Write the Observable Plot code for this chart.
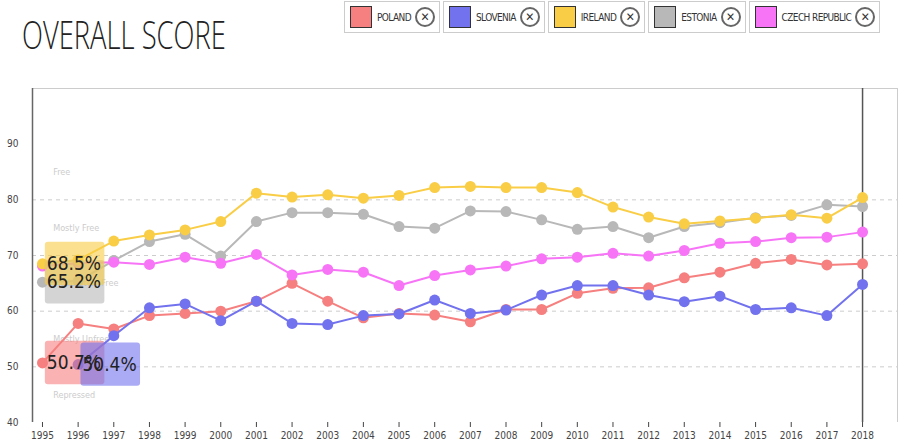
<!DOCTYPE html>
<html><head><meta charset="utf-8">
<script src="https://cdn.jsdelivr.net/npm/d3@7"></script>
<script src="https://cdn.jsdelivr.net/npm/@observablehq/plot@0.6"></script>
<style>
body{margin:0;background:#fff;font-family:"DejaVu Sans Condensed",sans-serif;}
#head{height:88px;position:relative;}
#title{position:absolute;left:22px;top:8px;font-size:38px;font-weight:300;color:#222;font-family:"Open Sans",sans-serif;transform:scaleX(0.72);transform-origin:left;white-space:nowrap;}
#legend{position:absolute;left:344px;top:1px;display:flex;gap:3px;}
.li{border:1px solid #ccc;height:30px;display:flex;align-items:center;padding:0 4px 0 5px;font-size:10px;color:#333;white-space:nowrap;letter-spacing:-0.6px;}
.sw{width:20px;height:20px;border:1px solid #333;margin-right:5px;}
.x{width:20px;height:20px;border:2px solid #666;border-radius:50%;margin-left:4px;display:flex;align-items:center;justify-content:center;font-weight:bold;font-size:12px;color:#333;box-sizing:border-box;letter-spacing:0;}
</style></head><body>
<div id="head"><div id="title">OVERALL SCORE</div><div id="legend"></div></div>
<div id="chart"></div>
<script>
const years = d3.range(1995, 2019);
const countries = ["POLAND","SLOVENIA","IRELAND","ESTONIA","CZECH REPUBLIC"];
const colors = ["#f67f7f","#7272ee","#f9cd45","#b8b8b8","#f774f7"];
const poland = [50.7,57.8,56.8,59.2,59.6,60.0,61.8,65.0,61.8,58.8,59.6,59.3,58.1,60.3,60.3,63.2,64.1,64.2,66.0,67.0,68.6,69.3,68.3,68.5];
const slovenia = [null,50.4,55.6,60.6,61.3,58.3,61.8,57.8,57.6,59.2,59.5,62.0,59.6,60.2,62.9,64.6,64.6,62.9,61.7,62.7,60.3,60.6,59.2,64.8];
const ireland = [68.5,69.2,72.6,73.7,74.6,76.1,81.2,80.5,80.9,80.3,80.8,82.2,82.4,82.2,82.2,81.3,78.7,76.9,75.7,76.2,76.7,77.3,76.7,80.4];
const estonia = [65.2,65.4,69.1,72.5,73.8,69.9,76.1,77.7,77.7,77.4,75.2,74.9,78.0,77.9,76.4,74.7,75.2,73.2,75.2,75.9,76.8,77.2,79.1,78.8];
const czech = [68.1,68.6,68.8,68.4,69.7,68.6,70.2,66.5,67.5,67.0,64.6,66.4,67.4,68.1,69.4,69.7,70.4,69.9,70.9,72.2,72.5,73.2,73.3,74.2];
const series = [poland,slovenia,ireland,estonia,czech];
const bandLabels = [{v:85,t:"Free"},{v:75,t:"Mostly Free"},{v:65,t:"Moderately Free"},{v:55,t:"Mostly Unfree"},{v:45,t:"Repressed"}];
const callouts = [
 {c:"ESTONIA",year:1995,v:65.2},{c:"IRELAND",year:1995,v:68.5},
 {c:"POLAND",year:1995,v:50.7},{c:"SLOVENIA",year:1996,v:50.4}];

const lg=document.getElementById("legend");
countries.forEach((c,i)=>{lg.insertAdjacentHTML("beforeend",`<div class="li"><div class="sw" style="background:${colors[i]}"></div>${c}<div class="x">✕</div></div>`)});

const data=[];
countries.forEach((c,i)=>series[i].forEach((v,j)=>{if(v!=null)data.push({c,year:years[j],v});}));
const col=c=>colors[countries.indexOf(c)];
const order=["POLAND","SLOVENIA","ESTONIA","CZECH REPUBLIC","IRELAND"];
const marks=[
 Plot.ruleY([50,60,70,80],{stroke:"#ccc",strokeDasharray:"4,4"}),
 Plot.ruleY([100],{stroke:"#ccc"}),
 Plot.ruleX([2018.98],{stroke:"#ccc"}),
 Plot.ruleX([1994.72],{stroke:"#666",strokeWidth:1.5}),
 Plot.ruleX([2018],{stroke:"#555",strokeWidth:1.5}),
 Plot.text(bandLabels,{x:1995.3,y:"v",text:"t",textAnchor:"start",fill:"#ccc",fontSize:9}),
];
order.forEach(c=>{
 const d=data.filter(e=>e.c===c);
 marks.push(Plot.line(d,{x:"year",y:"v",stroke:col(c),strokeWidth:2}));
 marks.push(Plot.dot(d,{x:"year",y:"v",fill:col(c),r:5.5}));
});
marks.push(Plot.rect(callouts,{x1:d=>d.year+0.08,x2:d=>d.year+1.75,y1:d=>d.v-3.9,y2:d=>d.v+3.9,fill:d=>col(d.c),fillOpacity:0.6,rx:3}));
marks.push(Plot.text(callouts,{x:d=>d.year+0.12,y:"v",text:d=>d.v.toFixed(1)+"%",textAnchor:"start",fontSize:19,fill:"#222",letterSpacing:"-1.5px"}));

const p=Plot.plot({width:900,height:355,marginLeft:32,marginRight:3,marginTop:0,marginBottom:21,
 style:{fontFamily:"DejaVu Sans Condensed, sans-serif",fontSize:"10px",color:"#444"},
 x:{domain:[1994.72,2018.98],ticks:years,tickFormat:d=>String(d),label:null,tickSize:5},
 y:{domain:[40,100],ticks:[40,50,60,70,80,90],label:null,tickSize:0,tickPadding:14},
 marks});
document.getElementById("chart").append(p);
</script></body></html>
